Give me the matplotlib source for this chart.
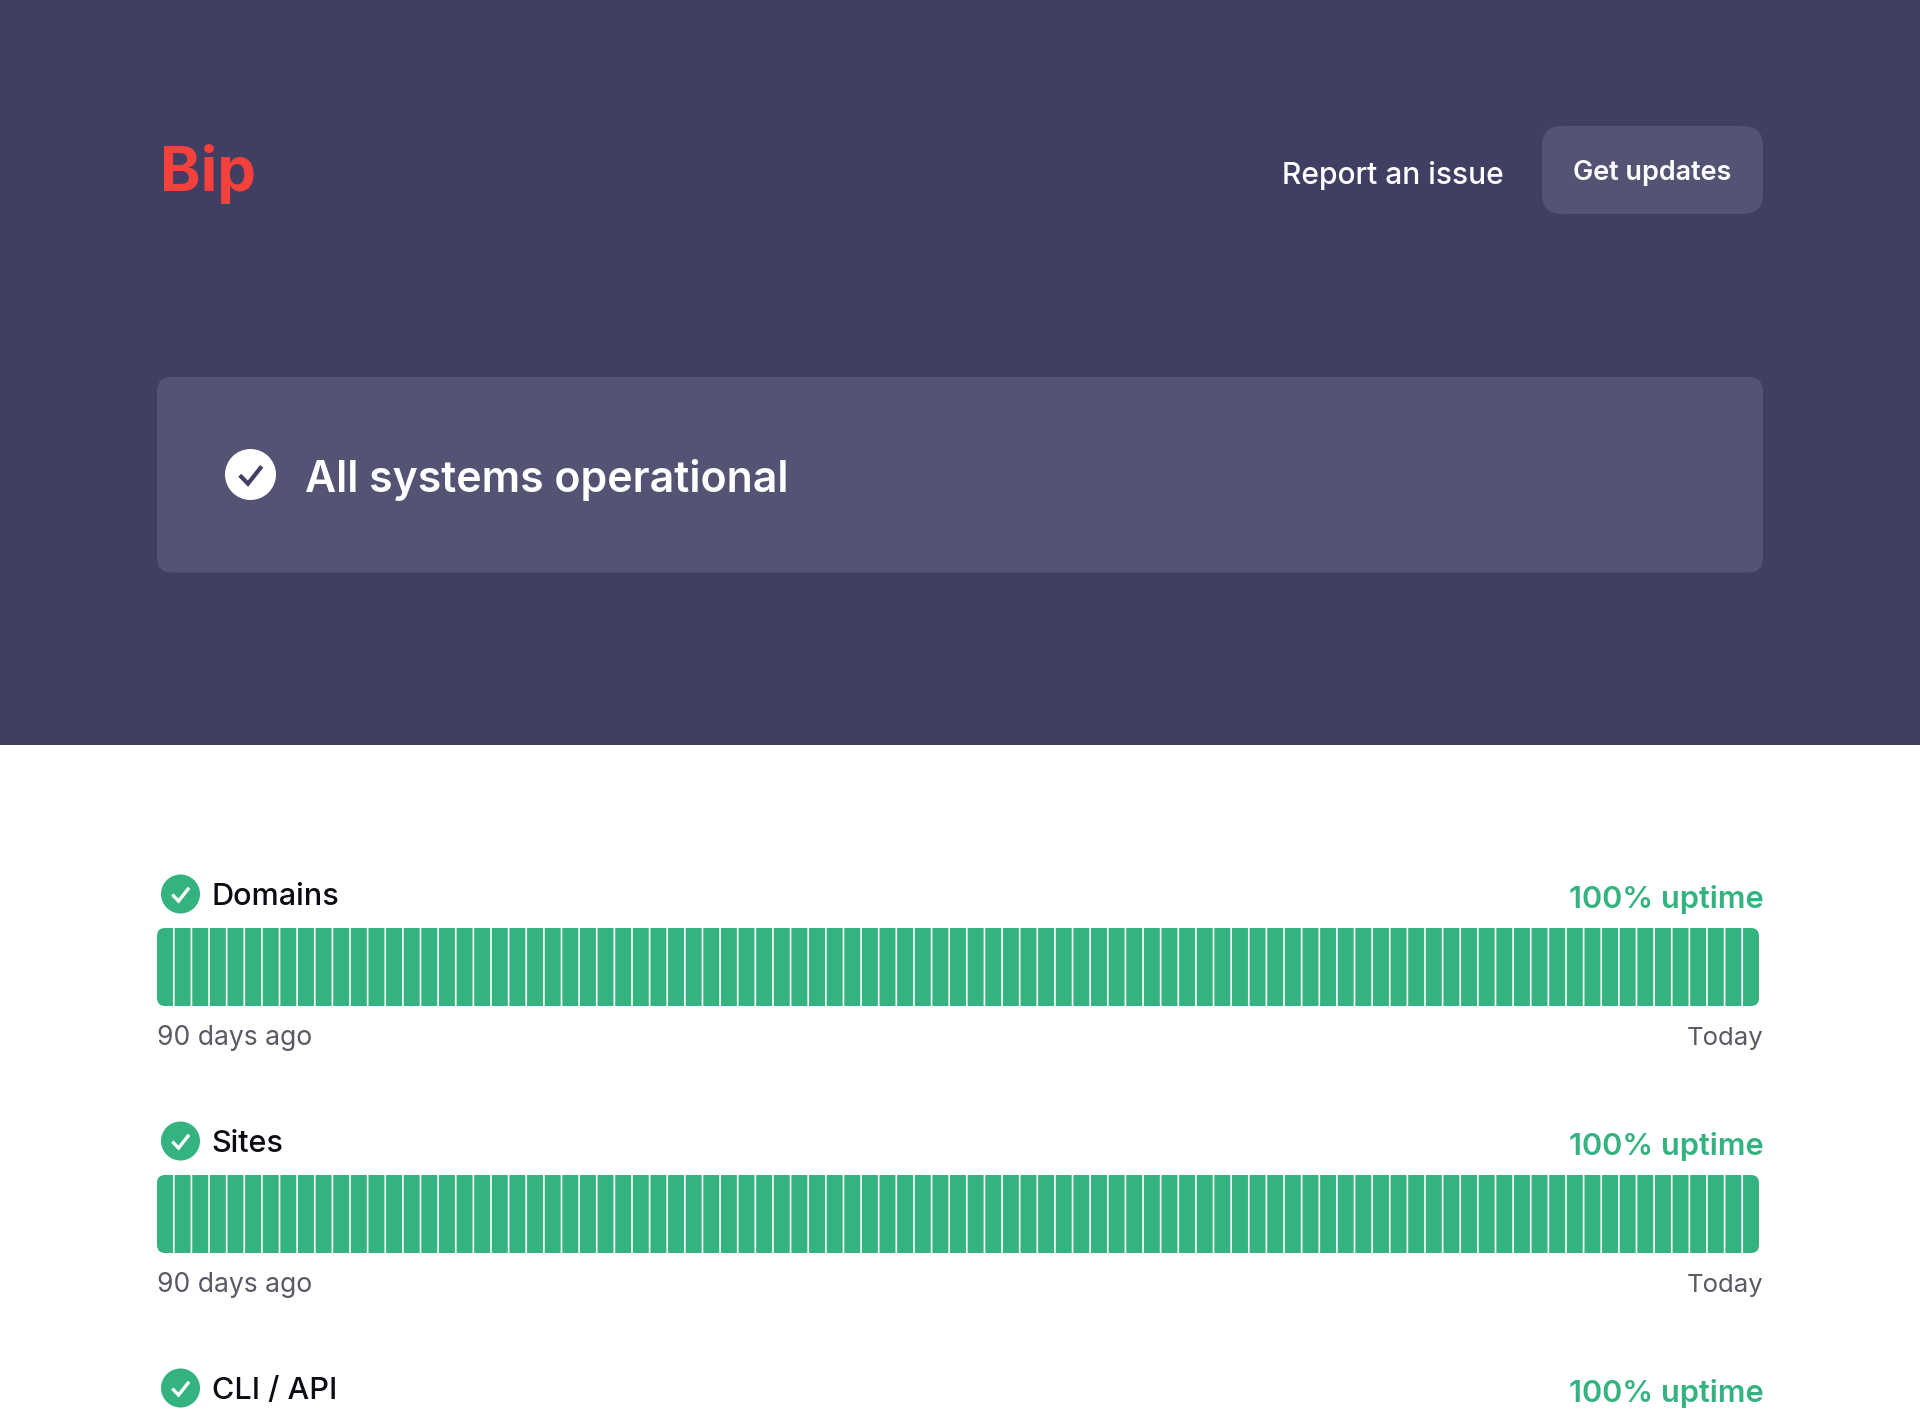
import matplotlib
matplotlib.use("Agg")
import matplotlib.pyplot as plt
from matplotlib.patches import FancyBboxPatch, Circle, Rectangle

plt.rcParams['font.family'] = ['Inter', 'Noto Sans', 'DejaVu Sans']

# data
brand = "Bip"
report_label = "Report an issue"
button_label = "Get updates"
status_label = "All systems operational"
services = ["Domains", "Sites", "CLI / API"]
uptime_labels = ["100% uptime", "100% uptime", "100% uptime"]
domains_uptime = [100] * 91
sites_uptime = [100] * 91
start_label = "90 days ago"
end_label = "Today"

HEADER = "#403e63"
CARD = "#545374"
GREEN = "#34b27f"
RED = "#f5413b"
GREY = "#5a5a66"
INK = "#0b0b14"

W, H = 1920, 1415
PX = 0.72  # pixels to points at dpi 100

fig = plt.figure(figsize=(W / 100, H / 100), dpi=100, facecolor="white")
ax = fig.add_axes([0, 0, 1, 1])
ax.set_xlim(0, W)
ax.set_ylim(H, 0)
ax.axis('off')


def rounded(x0, y0, x1, y1, r, color):
    box = FancyBboxPatch((x0 + r, y0 + r), x1 - x0 - 2 * r, y1 - y0 - 2 * r,
                         boxstyle=f"round,pad={r},rounding_size={r}",
                         facecolor=color, edgecolor="none", linewidth=0)
    ax.add_patch(box)
    return box


def check_icon(cx, cy, r, bg, fg, lw):
    ax.add_patch(Circle((cx, cy), r, facecolor=bg, edgecolor="none"))
    ax.plot([cx - 0.42 * r, cx - 0.1 * r, cx + 0.44 * r],
            [cy + 0.03 * r, cy + 0.36 * r, cy - 0.32 * r],
            color=fg, lw=lw, solid_capstyle="butt", solid_joinstyle="miter")


# header band
ax.add_patch(Rectangle((0, 0), W, 745, facecolor=HEADER, edgecolor="none"))
ax.text(160, 191, brand, color=RED, fontsize=61.5 * PX, fontweight="bold", va="baseline")
ax.text(1282, 184, report_label, color="white", fontsize=30 * PX, fontweight="medium", va="baseline")
rounded(1542, 126, 1763, 214, 20, CARD)
ax.text(1652.5, 180, button_label, color="white", fontsize=27 * PX,
        fontweight="semibold", ha="center", va="baseline")

# status card
rounded(157, 377, 1763, 572.5, 15, CARD)
check_icon(250.5, 474.5, 25.5, "white", HEADER, 3.0)
ax.text(305, 492, status_label, color="white", fontsize=42.8 * PX,
        fontweight="semibold", va="baseline")


def draw_strip(top, values):
    # one axes per service, bars placed by day index
    left, right, height = 157, 1759, 78
    box = rounded(left, top, right, top + height, 8, GREEN)
    box.set_visible(False)
    strip = fig.add_axes([left / W, 1 - (top + height) / H, (right - left) / W, height / H])
    strip.axis('off')
    bars = strip.bar(range(len(values)), values, width=0.905, color=GREEN)
    strip.set_xlim(-0.4525, len(values) - 1 + 0.4525)
    strip.set_ylim(0, 100)
    for b in bars:
        b.set_clip_path(box)
        b.set_snap(False)


rows = [894, 1141, 1388]
for i, name in enumerate(services):
    y = rows[i]
    check_icon(180.5, y, 19.5, GREEN, "white", 2.4)
    ax.text(211.5, y + 11, name, color=INK, fontsize=30.6 * PX, fontweight="medium", va="baseline")
    ax.text(1764, y + 14, uptime_labels[i], color=GREEN, fontsize=30.7 * PX,
            fontweight="semibold", ha="right", va="baseline")

for y, values in zip(rows, [domains_uptime, sites_uptime]):
    draw_strip(y + 34, values)
    ax.text(157, y + 151, start_label, color=GREY, fontsize=26.5 * PX, va="baseline")
    ax.text(1764, y + 151, end_label, color=GREY, fontsize=25.8 * PX, ha="right", va="baseline")

plt.savefig("out.png", dpi=100, facecolor="white")
